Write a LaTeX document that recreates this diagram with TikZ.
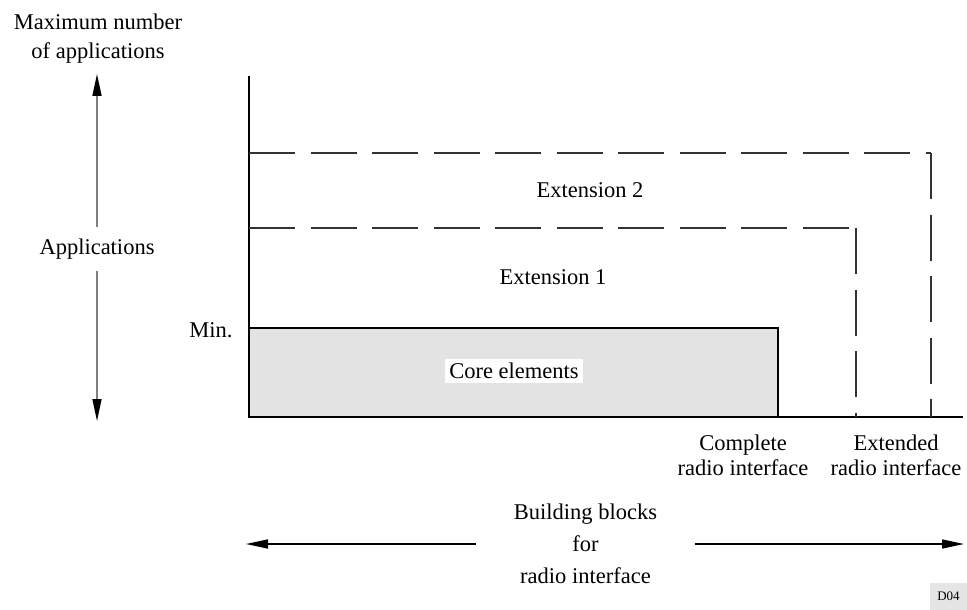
\documentclass[tikz,border=0pt]{standalone}
\usepackage{fontspec}
\setmainfont{Liberation Serif}
\usetikzlibrary{arrows.meta}
\begin{document}
\begin{tikzpicture}[x=1pt,y=-1pt,
  lbl/.style={font=\fontsize{22.5}{25}\selectfont, align=center, inner sep=0pt},
  axis/.style={line width=2pt, draw=black},
  ext/.style={line width=1.3pt, draw=black!80, dash pattern=on 46pt off 15.5pt},
  tip/.style={-{Triangle[length=22pt,width=9pt,color=black]}},
  vdim/.style={line width=1.5pt, draw=black!50, tip},
  hdim/.style={line width=1.5pt, draw=black, tip},
]
\useasboundingbox (0,0) rectangle (967,610);

% core block and axes
\fill[black!11] (249,328) rectangle (778,417);
\draw[line width=1.5pt] (249,328) -| (778,417);
\coordinate (org) at (249,417);
\coordinate (ytop) at (249,76);
\coordinate (xend) at (963,417);
\draw[axis] (ytop) -- (org) -- (xend);

% extensions (dashed outlines)
\coordinate (e1l) at (249,228);
\coordinate (e1c) at (856,228);
\coordinate (e1b) at (856,417);
\coordinate (e2l) at (249,153);
\coordinate (e2c) at (931,153);
\coordinate (e2b) at (931,417);
\draw[ext] (e1l) -- (e1c);
\draw[ext] (e1c) -- (e1b);
\draw[ext] (e2l) -- (e2c);
\draw[ext] (e2c) -- (e2b);

% labels
\node[lbl] (maxn) at (98,39) {Maximum number\\[4pt]of applications};
\node[lbl, inner xsep=4pt, inner ysep=12pt] (apps) at (97,249) {Applications};
\node[lbl] (minl) at (211,330.5) {Min.};
\node[lbl] (ext2) at (590,190) {Extension 2};
\node[lbl] (ext1) at (553,277) {Extension 1};
\node[lbl, fill=white, inner xsep=4.5pt, inner ysep=4pt] (core) at (514,371) {Core elements};
\node[lbl] (cri) at (743,455) {Complete\\radio interface};
\node[lbl] (eri) at (896,455) {Extended\\radio interface};
\node[lbl, inner xsep=38pt] (bb) at (585.5,544) {Building blocks\\[7pt]for\\[7pt]radio interface};
\node[fill=black!10, font=\fontsize{13}{15}\selectfont, minimum width=37pt, minimum height=27pt, inner sep=0pt] (dref) at (948.5,596.5) {D04};

% dimension arrows
\coordinate (vtop) at (97,74);
\coordinate (vbot) at (97,421);
\draw[vdim] (apps.north) -- (vtop);
\draw[vdim] (apps.south) -- (vbot);
\coordinate (hl) at (246,544);
\coordinate (hr) at (964,544);
\draw[hdim] (bb.west) -- (hl);
\draw[hdim] (bb.east) -- (hr);
\end{tikzpicture}
\end{document}
